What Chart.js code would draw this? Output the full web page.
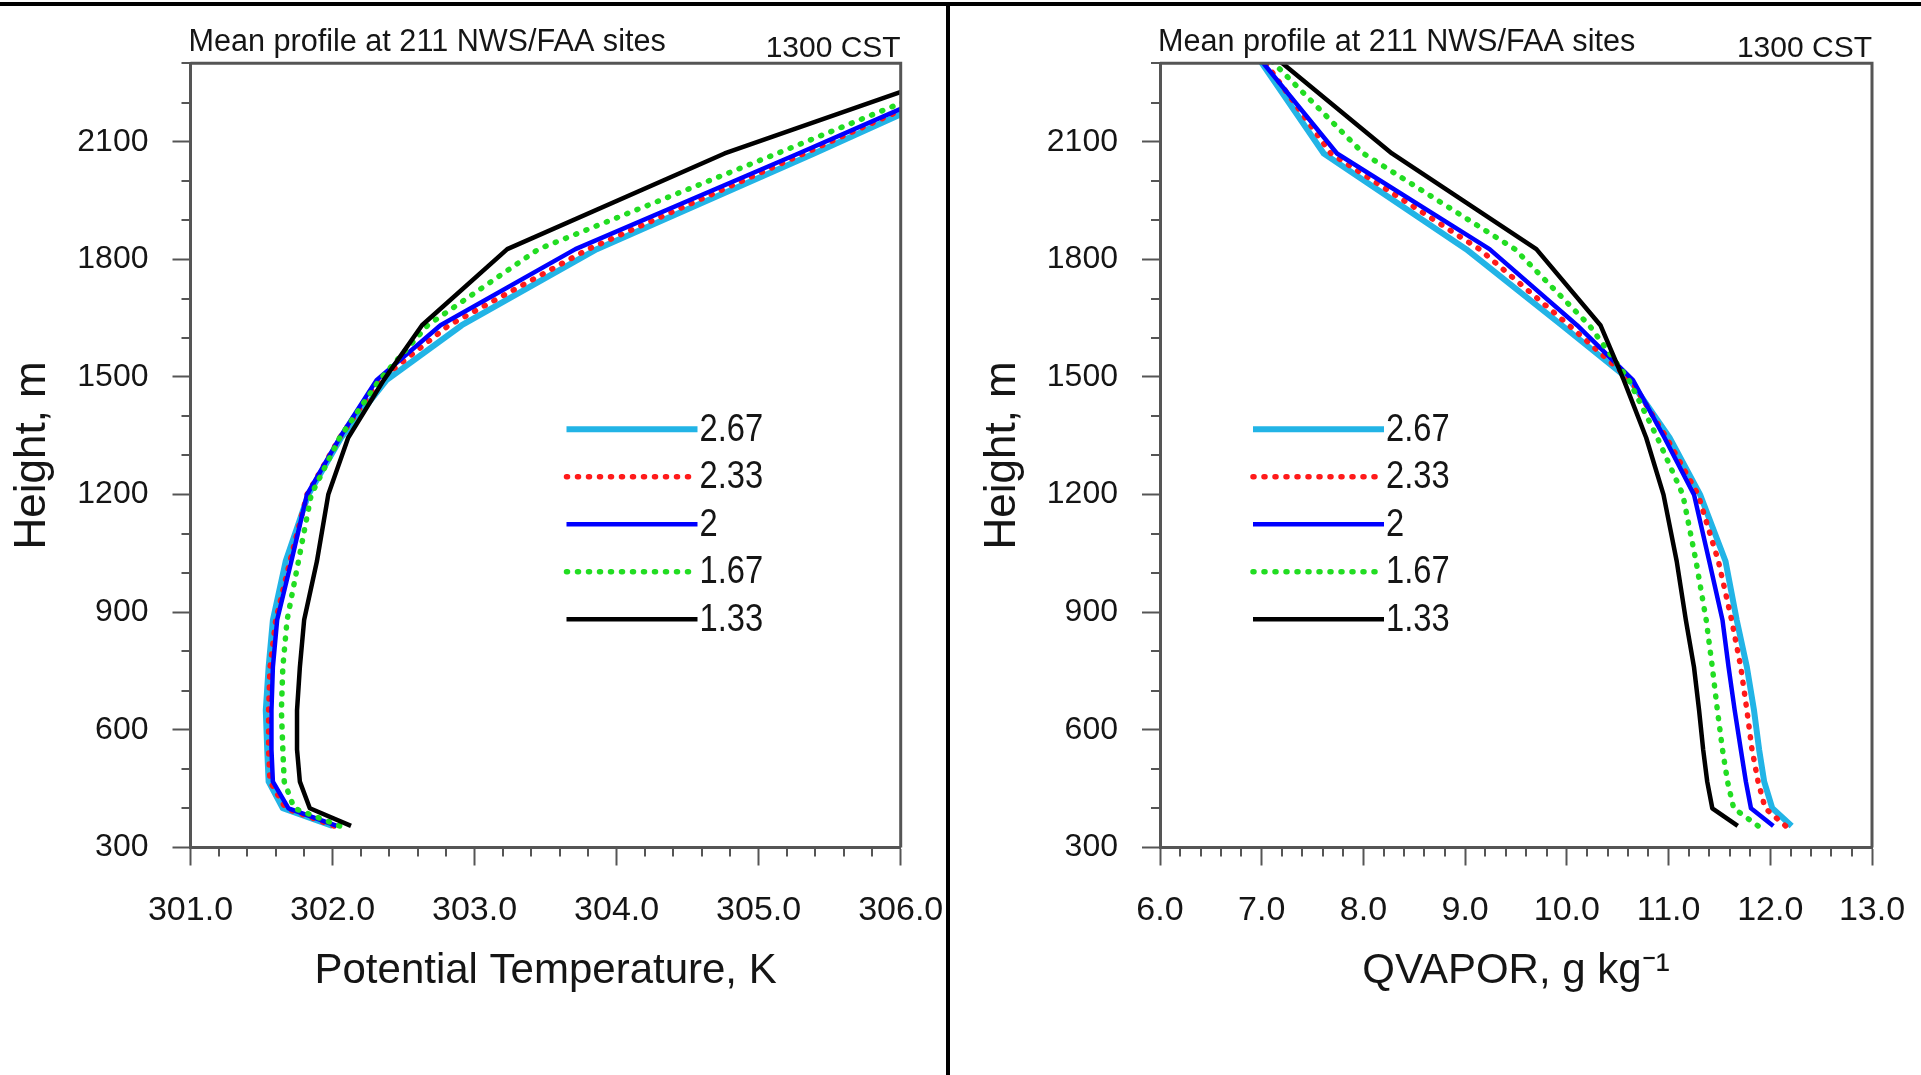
<!DOCTYPE html>
<html>
<head>
<meta charset="utf-8">
<title>Mean profile at 211 NWS/FAA sites</title>
<script src="https://cdn.jsdelivr.net/npm/chart.js@4.4.1/dist/chart.umd.min.js"></script>
<style>
    html, body { margin: 0; padding: 0; background: #fff; }
    #marco { position: relative; width: 1921px; height: 1075px; overflow: hidden; background: #fff; }
    #marco canvas { position: absolute; left: 0; top: 0; }
    .regla { position: absolute; background: #000; }
</style>
</head>
<body>
<div id="marco">
    <div class="regla" style="left:0;top:2px;width:1921px;height:4px"></div>
    <div class="regla" style="left:946px;top:2px;width:4px;height:1073px"></div>
    <canvas id="thetaChart" width="1921" height="1075"></canvas>
    <canvas id="qvaporChart" width="1921" height="1075"></canvas>
</div>
<script>
// Alturas (m) comunes a las dos graficas
var alturas = [355, 400, 468, 550, 650, 760, 880, 1030, 1200, 1345, 1492, 1632, 1826, 2070, 2350];
var etiquetas = ['2.67', '2.33', '2', '1.67', '1.33'];

// Temperatura potencial, K
var theta267 = [302.00, 301.65, 301.55, 301.54, 301.53, 301.55, 301.58, 301.67, 301.83, 302.06, 302.38, 302.91, 303.86, 305.39, 307.10];
var theta233 = [302.01, 301.67, 301.56, 301.55, 301.55, 301.56, 301.60, 301.70, 301.82, 302.05, 302.33, 302.82, 303.80, 305.32, 307.05];
var theta200 = [302.03, 301.69, 301.58, 301.57, 301.57, 301.58, 301.61, 301.71, 301.82, 302.05, 302.31, 302.76, 303.71, 305.28, 307.05];
var theta167 = [302.05, 301.73, 301.66, 301.65, 301.64, 301.65, 301.68, 301.76, 301.85, 302.05, 302.33, 302.67, 303.45, 305.13, 307.03];
var theta133 = [302.13, 301.84, 301.77, 301.75, 301.75, 301.77, 301.80, 301.89, 301.97, 302.11, 302.36, 302.63, 303.23, 304.76, 306.97];

// QVAPOR, g/kg
var qv267 = [12.21, 12.02, 11.94, 11.89, 11.84, 11.77, 11.67, 11.56, 11.31, 11.01, 10.62, 9.95, 9.01, 7.61, 6.87];
var qv233 = [12.15, 11.95, 11.88, 11.82, 11.77, 11.71, 11.62, 11.49, 11.29, 10.98, 10.63, 10.02, 9.14, 7.68, 6.90];
var qv200 = [12.03, 11.81, 11.76, 11.71, 11.65, 11.59, 11.53, 11.40, 11.25, 10.96, 10.65, 10.10, 9.24, 7.74, 6.86];
var qv167 = [11.88, 11.64, 11.58, 11.53, 11.48, 11.43, 11.37, 11.27, 11.14, 10.89, 10.61, 10.22, 9.49, 8.00, 6.93];
var qv133 = [11.68, 11.43, 11.38, 11.34, 11.30, 11.25, 11.17, 11.08, 10.95, 10.78, 10.56, 10.33, 9.70, 8.28, 6.97];

var colores = ['#22b4e6', '#ff1a1a', '#0000ff', '#22dd22', '#000000'];
var grosores = [6, 5.5, 4.5, 5.5, 4.5];
var guiones = [[], [1, 10], [], [1, 10], []];
var fuente = "'Liberation Sans', Arial, Helvetica, sans-serif";
var gris = '#555555';

Chart.defaults.font.family = fuente;
Chart.defaults.color = '#151515';

// Marco, ticks menores, leyenda y textos de cabecera
var extrasPanel = {
    id: 'extrasPanel',
    afterDraw: function (chart, args, opts) {
        var ctx = chart.ctx;
        var a = chart.chartArea;
        var xs = chart.scales.x;
        var ys = chart.scales.y;
        ctx.save();

        ctx.strokeStyle = gris;
        ctx.lineWidth = 3;
        ctx.setLineDash([]);
        ctx.beginPath();
        ctx.moveTo(a.left, a.top);
        ctx.lineTo(a.right, a.top);
        ctx.lineTo(a.right, a.bottom);
        ctx.stroke();

        // ticks menores
        ctx.lineWidth = 2;
        var n = Math.round((xs.max - xs.min) / opts.xMenor);
        for (var k = 0; k <= n; k++) {
            var v = xs.min + k * opts.xMenor;
            var r = v / opts.xMayor;
            if (Math.abs(r - Math.round(r)) < 1e-6) continue;
            var px = Math.round(xs.getPixelForValue(v));
            ctx.beginPath();
            ctx.moveTo(px, a.bottom);
            ctx.lineTo(px, a.bottom + 9);
            ctx.stroke();
        }
        n = Math.round((ys.max - ys.min) / opts.yMenor);
        for (k = 0; k <= n; k++) {
            v = ys.min + k * opts.yMenor;
            r = v / opts.yMayor;
            if (Math.abs(r - Math.round(r)) < 1e-6) continue;
            var py = Math.round(ys.getPixelForValue(v));
            ctx.beginPath();
            ctx.moveTo(a.left - 9, py);
            ctx.lineTo(a.left, py);
            ctx.stroke();
        }

        // leyenda dentro del area
        var ds = chart.data.datasets;
        var lx = a.left + opts.leyendaX;
        for (var i = 0; i < ds.length; i++) {
            var ly = a.top + opts.leyendaY + i * opts.leyendaPaso;
            ctx.strokeStyle = ds[i].borderColor;
            ctx.lineWidth = ds[i].borderWidth;
            ctx.lineCap = ds[i].borderCapStyle || 'butt';
            ctx.setLineDash(ds[i].borderDash || []);
            ctx.beginPath();
            ctx.moveTo(lx, ly);
            ctx.lineTo(lx + opts.leyendaLargo, ly);
            ctx.stroke();
            ctx.setLineDash([]);
            ctx.save();
            ctx.translate(lx + opts.leyendaLargo + 2, ly);
            ctx.scale(0.86, 1);
            ctx.fillStyle = '#151515';
            ctx.font = '38px ' + fuente;
            ctx.textAlign = 'left';
            ctx.textBaseline = 'middle';
            ctx.fillText(ds[i].label, 0, 1);
            ctx.restore();
        }

        // cabecera
        ctx.fillStyle = '#151515';
        ctx.font = '30.6px ' + fuente;
        ctx.textBaseline = 'alphabetic';
        ctx.textAlign = 'left';
        ctx.fillText(opts.titulo, a.left - 2, 51);
        ctx.font = '30px ' + fuente;
        ctx.textAlign = 'right';
        ctx.fillText(opts.hora, a.right, 57);
        ctx.restore();
    }
};

function crearGrafica(id, series, xMin, xMax, tituloX, padIzq, padDer, leyendaX) {
    var datasets = [];
    for (var i = 0; i < series.length; i++) {
        datasets.push({
            label: etiquetas[i],
            data: series[i].map(function (v, k) { return {x: v, y: alturas[k]}; }),
            borderColor: colores[i],
            backgroundColor: colores[i],
            borderWidth: grosores[i],
            borderDash: guiones[i],
            borderCapStyle: guiones[i].length ? 'round' : 'butt',
            borderJoinStyle: 'round',
            pointRadius: 0,
            showLine: true,
            tension: 0,
            order: series.length - i
        });
    }
    var config = {
        type: 'scatter',
        data: {datasets: datasets},
        options: {
            responsive: false,
            animation: false,
            devicePixelRatio: 1,
            layout: {padding: {left: padIzq, right: padDer, top: 63.3, bottom: 0}},
            plugins: {
                legend: {display: false},
                tooltip: {enabled: false},
                extrasPanel: {
                    xMenor: 0.2, xMayor: 1, yMenor: 100, yMayor: 300,
                    leyendaX: leyendaX, leyendaY: 366, leyendaPaso: 47.5, leyendaLargo: 131,
                    titulo: 'Mean profile at 211 NWS/FAA sites', hora: '1300 CST'
                }
            },
            scales: {
                x: {
                    type: 'linear', position: 'bottom', min: xMin, max: xMax,
                    ticks: {
                        stepSize: 1, includeBounds: false, padding: 25, autoSkip: false, maxRotation: 0,
                        color: '#151515', font: {size: 34},
                        callback: function (v) { return Number(v).toFixed(1); }
                    },
                    grid: {drawOnChartArea: false, drawTicks: true, tickLength: 18, tickWidth: 2, tickColor: gris},
                    border: {display: true, width: 3, color: gris},
                    title: {display: true, text: tituloX, color: '#151515', font: {size: 42, lineHeight: 1}, padding: {top: 0, bottom: 83}},
                    afterFit: function (s) {
                        s.height = 1075 - 847.5;
                        s.paddingLeft = 0;
                        s.paddingRight = 0;
                    }
                },
                y: {
                    type: 'linear', position: 'left', min: 300, max: 2300,
                    ticks: {
                        stepSize: 300, includeBounds: false, padding: 24, autoSkip: false,
                        color: '#151515', font: {size: 32},
                        callback: function (v) { return String(v); }
                    },
                    grid: {drawOnChartArea: false, drawTicks: true, tickLength: 18, tickWidth: 2, tickColor: gris},
                    border: {display: true, width: 3, color: gris},
                    title: {display: true, text: 'Height, m', color: '#151515', font: {size: 44, lineHeight: 1}, padding: {top: 11, bottom: 0}},
                    afterFit: function (s) {
                        s.width = 190.5;
                        s.paddingTop = 0;
                        s.paddingBottom = 0;
                    }
                }
            }
        },
        plugins: [extrasPanel]
    };
    return new Chart(document.getElementById(id), config);
}

window.graficaTheta = crearGrafica('thetaChart',
    [theta267, theta233, theta200, theta167, theta133],
    301, 306, 'Potential Temperature, K', 0, 1921 - 900.7, 376);

window.graficaQv = crearGrafica('qvaporChart',
    [qv267, qv233, qv200, qv167, qv133],
    6, 13, 'QVAPOR, g kg\u207B\u00B9', 1160 - 190.5, 1921 - 1872, 93);
</script>
</body>
</html>
